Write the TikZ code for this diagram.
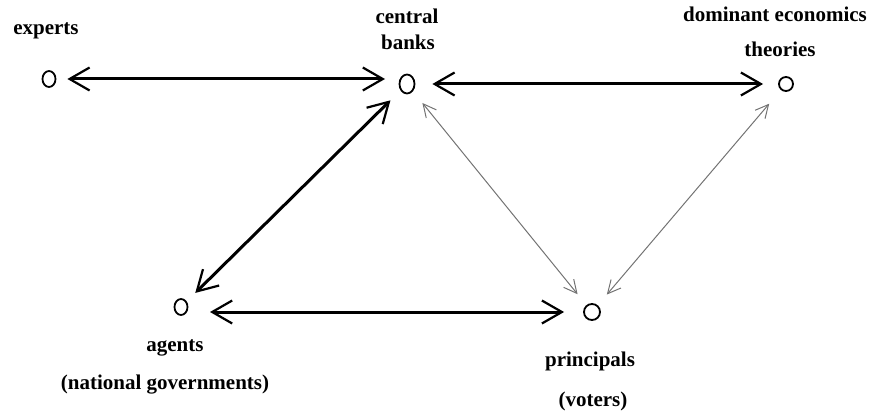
\documentclass[tikz,border=0pt]{standalone}
\usepackage{fontspec}
\setmainfont{Liberation Serif}
\usetikzlibrary{arrows.meta,shapes.geometric}
\begin{document}
\begin{tikzpicture}[x=1pt,y=-1pt,
  actor/.style={draw,ellipse,line width=1.8pt,minimum width=13pt,minimum height=16pt,inner sep=0pt},
  lbl/.style={font=\bfseries\fontsize{21}{24}\selectfont,inner sep=0pt},
  strong/.style={line width=3pt,{Straight Barb[length=20pt,width=23pt,line width=2.2pt]}-{Straight Barb[length=20pt,width=23pt,line width=2.2pt]}},
  weak/.style={line width=1pt,draw=black!55,{Straight Barb[length=13pt,width=13pt,line width=1pt]}-{Straight Barb[length=13pt,width=13pt,line width=1pt]}}]
\useasboundingbox (0,0) rectangle (871,417);
% actors
\node[actor] (exp) at (49,79) {};
\node[actor,minimum width=15pt,minimum height=19pt] (cb) at (407,84) {};
\node[actor,minimum width=14pt,minimum height=14pt] (dom) at (786,84) {};
\node[actor] (ag) at (181,307) {};
\node[actor,minimum width=16pt,minimum height=16pt] (pr) at (592,312) {};
% labels
\node[lbl] (lexp) at (46,31) {experts};
\node[lbl] (lcb1) at (407,16) {central};
\node[lbl] (lcb2) at (408,42) {banks};
\node[lbl] (ldom1) at (775,14) {dominant economics};
\node[lbl] (ldom2) at (780,49) {theories};
\node[lbl] (lag1) at (175,348) {agents};
\node[lbl] (lag2) at (165,385) {(national governments)};
\node[lbl] (lpr1) at (590,361) {principals};
\node[lbl] (lpr2) at (593,401) {(voters)};
% links
\draw[strong,shorten <=11pt,shorten >=22pt] (exp) -- (exp -| cb);
\draw[strong,shorten <=17pt,shorten >=15pt] (cb) -- (dom);
\draw[strong,shorten <=14pt,shorten >=12pt] (cb) -- (ag);
\draw[strong,shorten <=29pt,shorten >=19pt] (pr -| ag) -- (pr);
\draw[weak,shorten <=15pt,shorten >=14pt] (cb) -- (pr);
\draw[weak,shorten <=18pt,shorten >=14pt] (dom) -- (pr);
\end{tikzpicture}
\end{document}
